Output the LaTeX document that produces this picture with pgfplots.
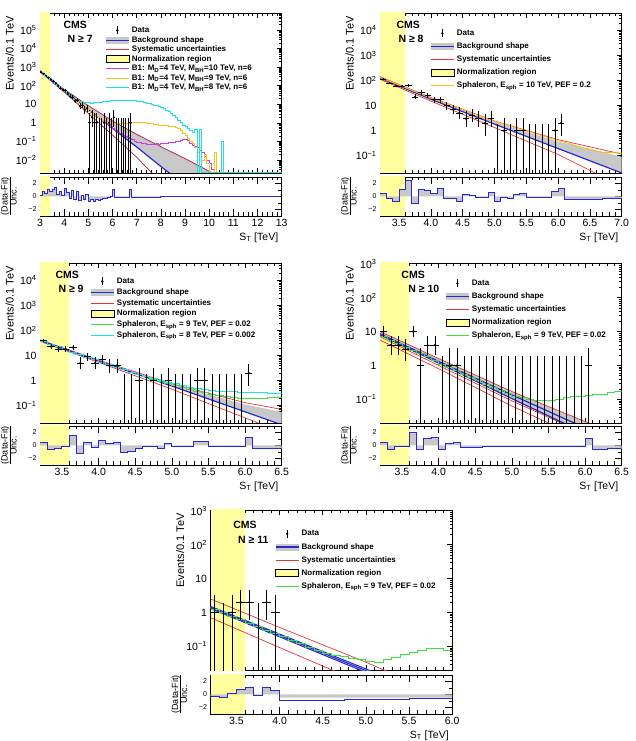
\documentclass[border=0pt]{standalone}
\usepackage{fontspec}
\setmainfont{Liberation Sans}
\usepackage{pgfplots}
\pgfplotsset{compat=1.18}

\definecolor{cmsblue}{RGB}{40,40,210}
\definecolor{cmsred}{RGB}{235,50,50}
\definecolor{cmsmaroon}{RGB}{175,25,60}
\definecolor{cmsgray}{RGB}{200,200,200}
\definecolor{normyel}{RGB}{255,255,160}
\definecolor{sigmag}{RGB}{205,60,235}
\definecolor{sigyel}{RGB}{242,195,30}
\definecolor{sigcyan}{RGB}{20,230,230}
\definecolor{siggreen}{RGB}{60,225,60}

\pgfplotsset{
  legdata/.style={legend image code/.code={\path[draw=none,fill=none] (0pt,-3.5pt) rectangle (23pt,3.5pt); \draw[black, line width=0.7pt] (11.5pt,-4pt)--(11.5pt,4pt); \fill[black] (11.5pt,0pt) circle (1pt);}},
  legbkg/.style={legend image code/.code={\fill[cmsgray, draw=none] (0pt,-3.5pt) rectangle (23pt,3.5pt); \draw[cmsblue, line width=1.2pt] (0pt,0pt)--(23pt,0pt);}},
  legline/.style={legend image code/.code={\path[draw=none,fill=none] (0pt,-3.5pt) rectangle (23pt,3.5pt); \draw[#1, line width=1pt] (0pt,0pt)--(23pt,0pt);}},
  legnorm/.style={legend image code/.code={\draw[black, fill=normyel, line width=0.6pt] (0pt,-3.5pt) rectangle (23pt,3.5pt);}},
  datapts/.style={black, only marks, mark=*, mark size=0.8pt, forget plot,
    error bars/y dir=both, error bars/y explicit, error bars/x dir=both, error bars/x fixed=0.05, error bars/error mark=none,
    error bars/error bar style={line width=0.7pt, black}},
  zeropts/.style={black, only marks, mark=none, forget plot,
    error bars/y dir=plus, error bars/y explicit, error bars/error mark=none,
    error bars/error bar style={line width=0.7pt, black}},
}

\newcommand{\lumi}{\node[anchor=south east, inner sep=0pt, font=\fontsize{10}{11}\selectfont] at (axis description cs:1,1.018) {35.9 fb\textsuperscript{-1} (13 TeV)};}
\newcommand{\ratiolab}{{\renewcommand{\arraystretch}{0.8}\begin{tabular}{@{}c@{}}(Data-Fit)\\\hline Unc.\end{tabular}}}

\begin{document}
\begin{tikzpicture}
\path[use as bounding box] (0pt,0pt) rectangle (635pt,741pt);

%%%%%%%%%%%%%%%%%%%% PANEL 1 : N >= 7
\begin{axis}[ymode=log, scale only axis, width=241.7pt, height=160pt,
  at={(40pt,568pt)}, anchor=south west,
  tick align=inside, tick pos=both, axis line style={line width=0.6pt}, tick style={black, line width=0.5pt},
  tick label style={font=\fontsize{10.5}{12}\selectfont},
  major tick length=5pt, minor tick length=2.6pt,
  xmin=3, xmax=13, ymin=0.002, ymax=8e5,
  xtick={3,4,...,13}, minor xtick={3.2,3.4,...,12.8}, xticklabels={},
  ytick={0.01,0.1,1,10,100,1000,10000,100000},
  yticklabels={10\textsuperscript{−2},10\textsuperscript{−1},1,10,10\textsuperscript{2},10\textsuperscript{3},10\textsuperscript{4},10\textsuperscript{5}},
  minor ytick={0.002,0.003,0.004,0.005,0.006,0.007,0.008,0.009,0.02,0.03,0.04,0.05,0.06,0.07,0.08,0.09,0.2,0.3,0.4,0.5,0.6,0.7,0.8,0.9,2,3,4,5,6,7,8,9,20,30,40,50,60,70,80,90,200,300,400,500,600,700,800,900,2000,3000,4000,5000,6000,7000,8000,9000,20000,30000,40000,50000,60000,70000,80000,90000,200000,300000,400000,500000,600000,700000},
  ylabel={Events/0.1 TeV},
  ylabel style={at={(axis description cs:-0.125,1)}, anchor=east, font=\fontsize{11}{13}\selectfont},
  legend cell align=left,
  legend style={at={(axis description cs:0.269,0.92)}, anchor=north west, draw=none, fill=none, inner sep=0pt,
    font=\bfseries\fontsize{8}{9}\selectfont, row sep=1.5pt,
    nodes={inner xsep=2.5pt, inner ysep=0pt, text height=6pt, text depth=2pt}}]
\addlegendimage{legdata}\addlegendentry{Data}
\addlegendimage{legbkg}\addlegendentry{Background shape}
\addlegendimage{legline=cmsred}\addlegendentry{Systematic uncertainties}
\addlegendimage{legnorm}\addlegendentry{Normalization region}
\addlegendimage{legline=sigmag}\addlegendentry{B1: M\textsubscript{D}=4 TeV, M\textsubscript{BH}=10 TeV, n=6}
\addlegendimage{legline=sigyel}\addlegendentry{B1: M\textsubscript{D}=4 TeV, M\textsubscript{BH}=9 TeV, n=6}
\addlegendimage{legline=sigcyan}\addlegendentry{B1: M\textsubscript{D}=4 TeV, M\textsubscript{BH}=8 TeV, n=6}
\addplot[fill=normyel, draw=none, forget plot] coordinates {(3,1e-4) (3.4,1e-4) (3.4,1e7) (3,1e7)} -- cycle;
\addplot[fill=cmsgray, draw=none, forget plot] coordinates {(3.0,630) (4.0,63) (5.0,8.3) (6.0,1.26) (7.0,0.24) (8.0,0.052) (9.0,0.012) (10.1,0.0021) (10.3,0.0015) (10.3,0.001) (8.5,0.0014) (8.0,0.0045) (7.0,0.05) (6.0,0.5) (5.0,5.0) (4.0,52) (3.0,600)} -- cycle;
\addplot[cmsmaroon, line width=0.7pt, forget plot] coordinates {(3.0,630) (4.0,63) (5.0,8.3) (6.0,1.26) (7.0,0.24) (8.0,0.052) (9.0,0.012) (10.1,0.0021) (10.3,0.0015)};
\addplot[cmsmaroon, line width=0.7pt, forget plot] coordinates {(3.0,560) (4.0,45) (5.0,3.2) (6.0,0.22) (7.0,0.014) (7.6,0.0022) (7.7,0.0016)};
\addplot[cmsblue, line width=1.2pt, forget plot] coordinates {(3.0,600) (4.0,52) (5.0,5.0) (6.0,0.5) (7.0,0.05) (8.0,0.0045) (8.5,0.0014)};
\addplot[const plot, sigmag, line width=0.9pt, forget plot] coordinates {(5.0,4.1) (5.1,3.2) (5.2,2.6) (5.3,2.2) (5.4,1.8) (5.5,1.55) (5.6,1.25) (5.7,0.98) (5.8,0.78) (5.9,0.62) (6.0,0.48) (6.1,0.38) (6.2,0.32) (6.3,0.26) (6.4,0.22) (6.5,0.19) (6.6,0.16) (6.7,0.14) (6.8,0.12) (6.9,0.105) (7.0,0.093) (7.1,0.083) (7.2,0.079) (7.3,0.074) (7.4,0.071) (7.5,0.071) (7.6,0.068) (7.7,0.071) (7.8,0.074) (7.9,0.071) (8.0,0.076) (8.1,0.079) (8.2,0.079) (8.3,0.083) (8.4,0.085) (8.5,0.089) (8.6,0.095) (8.7,0.1) (8.8,0.11) (8.9,0.12) (9.0,0.12) (9.1,0.11) (9.2,0.08) (9.3,0.063) (9.4,0.056) (9.5,0.045) (9.6,0.032) (9.7,0.025) (9.8,0.016) (9.9,0.01) (10.0,0.0063) (10.1,0.0032) (10.2,0.0021) (13,0.0021)};
\addplot[const plot, sigyel, line width=0.9pt, forget plot] coordinates {(4.5,13.7) (4.6,10.7) (4.7,8.4) (4.8,6.6) (4.9,5.1) (5.0,4.1) (5.1,3.2) (5.2,2.6) (5.3,2.2) (5.4,1.8) (5.5,1.55) (5.6,1.35) (5.7,1.2) (5.8,1.1) (5.9,1.02) (6.0,0.95) (6.1,0.91) (6.2,0.89) (6.3,0.87) (6.4,0.87) (6.5,0.89) (6.6,0.91) (6.7,0.95) (6.8,1.0) (6.9,1.05) (7.0,1.07) (7.1,1.07) (7.2,1.05) (7.3,1.0) (7.4,0.95) (7.5,0.91) (7.6,0.87) (7.7,0.83) (7.8,0.79) (7.9,0.76) (8.0,0.74) (8.1,0.71) (8.2,0.68) (8.3,0.65) (8.4,0.63) (8.5,0.6) (8.6,0.54) (8.7,0.47) (8.8,0.38) (8.9,0.28) (9.0,0.2) (9.1,0.14) (9.2,0.1) (9.3,0.08) (9.4,0.05) (9.5,0.025) (9.6,0.05) (9.7,0.01) (9.8,0.02) (9.9,0.0063) (10.0,0.0021) (10.1,0.0021) (10.2,0.025) (10.3,0.0021) (13,0.0021)};
\addplot[const plot, sigcyan, line width=0.9pt, forget plot] coordinates {(3.0,533) (3.1,418) (3.2,327) (3.3,256) (3.4,201) (3.5,157) (3.6,123) (3.7,97) (3.8,76) (3.9,59) (4.0,46) (4.1,36) (4.2,28.5) (4.3,22) (4.4,17.5) (4.5,15.8) (4.6,14.1) (4.7,13.2) (4.8,12.6) (4.9,12.0) (5.0,11.7) (5.1,11.5) (5.2,11.7) (5.3,12.0) (5.4,12.6) (5.5,12.9) (5.6,13.5) (5.7,14.1) (5.8,14.5) (5.9,15.1) (6.0,15.1) (6.1,15.8) (6.2,15.5) (6.3,16.2) (6.4,16.2) (6.5,16.6) (6.6,16.2) (6.7,15.8) (6.8,15.8) (6.9,15.1) (7.0,14.5) (7.1,13.8) (7.2,13.2) (7.3,12.3) (7.4,11.5) (7.5,10.5) (7.6,9.5) (7.7,8.9) (7.8,8.1) (7.9,7.4) (8.0,6.6) (8.1,5.75) (8.2,4.8) (8.3,4.0) (8.4,3.3) (8.5,2.6) (8.6,1.9) (8.7,1.4) (8.8,1.0) (8.9,0.71) (9.0,0.6) (9.1,0.5) (9.2,0.38) (9.3,0.3) (9.4,0.42) (9.5,0.0021) (9.6,0.42) (9.7,0.0021) (10.5,0.1) (10.6,0.0021) (13,0.0021)};
\addplot[datapts] table[x=x, y=y, y error minus=em, y error plus=ep] {
x y em ep
3.05 520 22.3 23.3
3.15 430 20.2 21.2
3.25 340 17.9 18.9
3.35 270 16.0 17.0
3.45 215 14.2 15.2
3.55 175 12.7 13.7
3.65 140 11.3 12.3
3.75 100 9.5 10.5
3.85 70 8.0 9.1
3.95 60 7.5 8.5
4.05 55 7.2 8.2
4.15 36 5.8 6.9
4.25 27 5.1 6.2
4.35 24 4.8 5.9
4.45 15 3.8 4.9
4.55 17 4.1 5.2
4.65 8 2.77 3.95
4.75 9 2.94 4.11
4.85 5 2.16 3.38
4.95 6 2.38 3.58
5.05 1 0.999 2.30
5.15 2 1.4 2.64
5.25 1 0.999 2.30
5.35 1 0.999 2.30
5.65 1 0.999 2.30
5.85 1 0.999 2.30
6.05 2 1.4 2.64
6.75 1 0.999 2.30
};
\addplot[zeropts] table[x=x, y=y, y error plus=ep] {
x y ep
5.45 0.0001 1.84
5.55 0.0001 1.84
5.75 0.0001 1.84
5.95 0.0001 1.84
6.15 0.0001 1.84
6.25 0.0001 1.84
6.35 0.0001 1.84
6.45 0.0001 1.84
6.55 0.0001 1.84
6.65 0.0001 1.84
};
\node[anchor=west, font=\bfseries\fontsize{10.5}{12}\selectfont] at (axis description cs:0.083,0.927) {CMS};
\node[anchor=west, font=\bfseries\fontsize{10.5}{12}\selectfont] at (axis description cs:0.1,0.84) {N ≥ 7};
\lumi
\end{axis}
\begin{axis}[scale only axis, width=241.7pt, height=39pt, at={(40pt,525pt)}, anchor=south west,
  tick align=inside, tick pos=both, axis line style={line width=0.6pt}, tick style={black, line width=0.5pt},
  tick label style={font=\fontsize{10.5}{12}\selectfont},
  major tick length=7pt, minor tick length=3.5pt,
  ymin=-3, ymax=3, ytick={-2,0,2}, yticklabels={−2,0,2}, minor ytick={-3,-1,1,3},
  yticklabel style={font=\fontsize{7}{8}\selectfont},
  xlabel={S\textsubscript{T} [TeV]},
  xlabel style={at={(axis description cs:1,0)}, anchor=north east, yshift=-13pt, font=\fontsize{10.5}{12}\selectfont},
  ylabel={\ratiolab},
  ylabel style={at={(axis description cs:-0.124,0.5)}, anchor=center, font=\fontsize{9}{10}\selectfont},
  xmin=3, xmax=13, xtick={3,4,...,13}, xticklabels={3,4,5,6,7,8,9,10,11,12,13}, minor xtick={3.2,3.4,...,12.8}]
\addplot[fill=normyel, draw=none] coordinates {(3,-5) (3.4,-5) (3.4,5) (3,5)} -- cycle;
\addplot[const plot, fill=cmsgray, draw=none] coordinates {(3.0,0) (3.0,0.1) (3.1,0.8) (3.2,0.5) (3.3,1.0) (3.4,0.8) (3.5,1.1) (3.6,1.4) (3.7,0.35) (3.8,0.7) (3.9,0.1) (4.0,1.3) (4.1,0.6) (4.2,-0.25) (4.3,0.9) (4.4,-0.4) (4.5,0.8) (4.6,-0.6) (4.7,0.15) (4.8,-0.5) (4.9,0.35) (5.0,-0.8) (5.1,-0.4) (5.2,-0.7) (5.3,-0.5) (5.4,-0.6) (5.5,-0.4) (5.6,-0.35) (5.7,-0.25) (5.8,-0.1) (5.9,0.0) (6.0,1.0) (6.1,-0.1) (6.7,1.0) (6.8,-0.1) (7.2,-0.08) (8,-0.06) (9,-0.04) (10,-0.03) (11,-0.02) (13,-0.02) (13,0)} -- cycle;
\addplot[const plot, cmsblue, line width=1pt] coordinates {(3.0,0.1) (3.1,0.8) (3.2,0.5) (3.3,1.0) (3.4,0.8) (3.5,1.1) (3.6,1.4) (3.7,0.35) (3.8,0.7) (3.9,0.1) (4.0,1.3) (4.1,0.6) (4.2,-0.25) (4.3,0.9) (4.4,-0.4) (4.5,0.8) (4.6,-0.6) (4.7,0.15) (4.8,-0.5) (4.9,0.35) (5.0,-0.8) (5.1,-0.4) (5.2,-0.7) (5.3,-0.5) (5.4,-0.6) (5.5,-0.4) (5.6,-0.35) (5.7,-0.25) (5.8,-0.1) (5.9,0.0) (6.0,1.0) (6.1,-0.1) (6.7,1.0) (6.8,-0.1) (7.2,-0.08) (8,-0.06) (9,-0.04) (10,-0.03) (11,-0.02) (13,-0.02)};
\end{axis}

%%%%%%%%%%%%%%%%%%%% PANEL 2 : N >= 8
\begin{axis}[ymode=log, scale only axis, width=241.7pt, height=160pt,
  at={(380pt,568pt)}, anchor=south west,
  tick align=inside, tick pos=both, axis line style={line width=0.6pt}, tick style={black, line width=0.5pt},
  tick label style={font=\fontsize{10.5}{12}\selectfont},
  major tick length=5pt, minor tick length=2.6pt,
  xmin=3.2, xmax=7.0, ymin=0.02, ymax=5e4,
  xtick={3.5,4,...,7}, minor xtick={3.2,3.3,...,7.0}, xticklabels={},
  ytick={0.1,1,10,100,1000,10000},
  yticklabels={10\textsuperscript{−1},1,10,10\textsuperscript{2},10\textsuperscript{3},10\textsuperscript{4}},
  minor ytick={0.02,0.03,0.04,0.05,0.06,0.07,0.08,0.09,0.2,0.3,0.4,0.5,0.6,0.7,0.8,0.9,2,3,4,5,6,7,8,9,20,30,40,50,60,70,80,90,200,300,400,500,600,700,800,900,2000,3000,4000,5000,6000,7000,8000,9000,20000,30000,40000},
  ylabel={Events/0.1 TeV},
  ylabel style={at={(axis description cs:-0.125,1)}, anchor=east, font=\fontsize{11}{13}\selectfont},
  legend cell align=left,
  legend style={at={(axis description cs:0.207,0.902)}, anchor=north west, draw=none, fill=none, inner sep=0pt,
    font=\bfseries\fontsize{8}{9}\selectfont, row sep=5pt,
    nodes={inner xsep=2.5pt, inner ysep=0pt, text height=6pt, text depth=2pt}}]
\addlegendimage{legdata}\addlegendentry{Data}
\addlegendimage{legbkg}\addlegendentry{Background shape}
\addlegendimage{legline=cmsred}\addlegendentry{Systematic uncertainties}
\addlegendimage{legnorm}\addlegendentry{Normalization region}
\addlegendimage{legline=sigyel}\addlegendentry{Sphaleron, E\textsubscript{sph} = 10 TeV, PEF = 0.2}
\addplot[fill=normyel, draw=none, forget plot] coordinates {(3.2,1e-4) (3.6,1e-4) (3.6,1e7) (3.2,1e7)} -- cycle;
\addplot[fill=cmsgray, draw=none, forget plot] coordinates {(3.2,135) (4.0,20) (5.0,2.2) (6.0,0.36) (7.0,0.09) (7.0,0.02) (6.0,0.19) (5.0,1.8) (4.0,17.8) (3.2,126)} -- cycle;
\addplot[cmsred, line width=0.7pt, forget plot] coordinates {(3.2,141) (4.0,21) (5.0,2.4) (6.0,0.43) (7.0,0.115)};
\addplot[cmsred, line width=0.7pt, forget plot] coordinates {(3.2,112) (4.0,15) (5.0,1.32) (6.0,0.11) (6.6,0.019)};
\addplot[cmsblue, line width=1.2pt, forget plot] coordinates {(3.2,126) (4.0,17.8) (5.0,1.8) (6.0,0.19) (7.0,0.02)};
\addplot[sigyel, line width=0.9pt, forget plot] coordinates {(3.2,133) (4.0,20) (5.0,2.3) (6.0,0.4) (6.4,0.2) (6.7,0.135) (7.0,0.125)};
\addplot[datapts] table[x=x, y=y, y error minus=em, y error plus=ep] {
x y em ep
3.25 112 10.1 11.1
3.35 78 8.3 9.3
3.45 60 7.2 8.3
3.55 60 7.2 8.3
3.65 64 7.5 8.5
3.75 22 4.6 5.7
3.85 33 5.7 6.8
3.95 25 5.0 6.0
4.05 17 4.1 5.2
4.15 17 4.1 5.2
4.25 10 3.11 4.27
4.35 7 2.58 3.77
4.45 5 2.16 3.38
4.55 3 1.63 2.92
4.65 4 1.91 3.16
4.75 3 1.63 2.92
4.85 2 1.4 2.64
4.95 3 1.63 2.92
5.15 1 0.999 2.30
5.35 1 0.999 2.30
5.45 1 0.999 2.30
5.95 1 0.999 2.30
6.05 2 1.4 2.64
};
\addplot[zeropts] table[x=x, y=y, y error plus=ep] {
x y ep
5.05 0.0001 1.84
5.25 0.0001 1.84
5.55 0.0001 1.84
5.65 0.0001 1.84
5.75 0.0001 1.84
5.85 0.0001 1.84
};
\node[anchor=west, font=\bfseries\fontsize{10.5}{12}\selectfont] at (axis description cs:0.054,0.927) {CMS};
\node[anchor=west, font=\bfseries\fontsize{10.5}{12}\selectfont] at (axis description cs:0.062,0.84) {N ≥ 8};
\lumi
\end{axis}
\begin{axis}[scale only axis, width=241.7pt, height=39pt, at={(380pt,525pt)}, anchor=south west,
  tick align=inside, tick pos=both, axis line style={line width=0.6pt}, tick style={black, line width=0.5pt},
  tick label style={font=\fontsize{10.5}{12}\selectfont},
  major tick length=7pt, minor tick length=3.5pt,
  ymin=-3, ymax=3, ytick={-2,0,2}, yticklabels={−2,0,2}, minor ytick={-3,-1,1,3},
  yticklabel style={font=\fontsize{7}{8}\selectfont},
  xlabel={S\textsubscript{T} [TeV]},
  xlabel style={at={(axis description cs:1,0)}, anchor=north east, yshift=-13pt, font=\fontsize{10.5}{12}\selectfont},
  ylabel={\ratiolab},
  ylabel style={at={(axis description cs:-0.124,0.5)}, anchor=center, font=\fontsize{9}{10}\selectfont},
  xmin=3.2, xmax=7.0, xtick={3.5,4,...,7}, xticklabels={3.5,4.0,4.5,5.0,5.5,6.0,6.5,7.0}, minor xtick={3.2,3.3,...,7.0}]
\addplot[fill=normyel, draw=none] coordinates {(3.2,-5) (3.6,-5) (3.6,5) (3.2,5)} -- cycle;
\addplot[const plot, fill=cmsgray, draw=none] coordinates {(3.2,0) (3.2,0.4) (3.3,-0.25) (3.4,-0.8) (3.5,1.05) (3.6,2.4) (3.7,-1.15) (3.8,1.05) (3.9,0.95) (4.0,0.4) (4.1,1.2) (4.2,-0.25) (4.3,-0.35) (4.4,-0.7) (4.5,0.25) (4.6,0.15) (4.7,-0.15) (4.8,-0.15) (4.9,0.6) (5.0,-0.8) (5.1,-0.1) (5.2,-0.35) (5.3,0.25) (5.4,0.4) (5.5,-0.15) (5.9,0.7) (6.0,1.3) (6.1,-0.42) (6.4,-0.4) (6.7,-0.37) (7.0,-0.35) (7.0,0)} -- cycle;
\addplot[const plot, cmsblue, line width=1pt] coordinates {(3.2,0.4) (3.3,-0.25) (3.4,-0.8) (3.5,1.05) (3.6,2.4) (3.7,-1.15) (3.8,1.05) (3.9,0.95) (4.0,0.4) (4.1,1.2) (4.2,-0.25) (4.3,-0.35) (4.4,-0.7) (4.5,0.25) (4.6,0.15) (4.7,-0.15) (4.8,-0.15) (4.9,0.6) (5.0,-0.8) (5.1,-0.1) (5.2,-0.35) (5.3,0.25) (5.4,0.4) (5.5,-0.15) (5.9,0.7) (6.0,1.3) (6.1,-0.42) (6.4,-0.4) (6.7,-0.37) (7.0,-0.35)};
\end{axis}

%%%%%%%%%%%%%%%%%%%% PANEL 3 : N >= 9
\begin{axis}[ymode=log, scale only axis, width=241.7pt, height=160pt,
  at={(40pt,318pt)}, anchor=south west,
  tick align=inside, tick pos=both, axis line style={line width=0.6pt}, tick style={black, line width=0.5pt},
  tick label style={font=\fontsize{10.5}{12}\selectfont},
  major tick length=5pt, minor tick length=2.6pt,
  xmin=3.2, xmax=6.5, ymin=0.02, ymax=5e4,
  xtick={3.5,4,...,6.5}, minor xtick={3.2,3.3,...,6.5}, xticklabels={},
  ytick={0.1,1,10,100,1000,10000},
  yticklabels={10\textsuperscript{−1},1,10,10\textsuperscript{2},10\textsuperscript{3},10\textsuperscript{4}},
  minor ytick={0.02,0.03,0.04,0.05,0.06,0.07,0.08,0.09,0.2,0.3,0.4,0.5,0.6,0.7,0.8,0.9,2,3,4,5,6,7,8,9,20,30,40,50,60,70,80,90,200,300,400,500,600,700,800,900,2000,3000,4000,5000,6000,7000,8000,9000,20000,30000,40000},
  ylabel={Events/0.1 TeV},
  ylabel style={at={(axis description cs:-0.125,1)}, anchor=east, font=\fontsize{11}{13}\selectfont},
  legend cell align=left,
  legend style={at={(axis description cs:0.207,0.914)}, anchor=north west, draw=none, fill=none, inner sep=0pt,
    font=\bfseries\fontsize{8}{9}\selectfont, row sep=2.7pt,
    nodes={inner xsep=2.5pt, inner ysep=0pt, text height=6pt, text depth=2pt}}]
\addlegendimage{legdata}\addlegendentry{Data}
\addlegendimage{legbkg}\addlegendentry{Background shape}
\addlegendimage{legline=cmsred}\addlegendentry{Systematic uncertainties}
\addlegendimage{legnorm}\addlegendentry{Normalization region}
\addlegendimage{legline=siggreen}\addlegendentry{Sphaleron, E\textsubscript{sph} = 9 TeV, PEF = 0.02}
\addlegendimage{legline=sigcyan}\addlegendentry{Sphaleron, E\textsubscript{sph} = 8 TeV, PEF = 0.002}
\addplot[fill=normyel, draw=none, forget plot] coordinates {(3.2,1e-4) (3.6,1e-4) (3.6,1e7) (3.2,1e7)} -- cycle;
\addplot[fill=cmsgray, draw=none, forget plot] coordinates {(3.2,41) (4.0,6.4) (5.0,0.7) (6.0,0.11) (6.5,0.055) (6.5,0.017) (6.0,0.056) (5.0,0.6) (4.0,6.0) (3.2,40)} -- cycle;
\addplot[cmsred, line width=0.7pt, forget plot] coordinates {(3.2,42) (4.0,6.6) (5.0,0.74) (6.0,0.13) (6.5,0.07)};
\addplot[cmsred, line width=0.7pt, forget plot] coordinates {(3.2,37) (4.0,5.3) (5.0,0.45) (6.0,0.032) (6.2,0.019)};
\addplot[cmsblue, line width=1.2pt, forget plot] coordinates {(3.2,40) (4.0,6.0) (5.0,0.6) (6.0,0.056) (6.5,0.017)};
\addplot[const plot, siggreen, line width=0.9pt, forget plot] coordinates {(3.2,35.5) (3.3,28) (3.4,22.1) (3.5,17.4) (3.6,13.7) (3.7,10.8) (3.8,8.5) (3.9,6.7) (4.0,5.3) (4.1,4.2) (4.2,3.4) (4.3,2.7) (4.4,2.15) (4.5,1.75) (4.6,1.4) (4.7,1.12) (4.8,0.92) (4.9,0.75) (5.0,0.62) (5.1,0.52) (5.2,0.44) (5.3,0.37) (5.4,0.32) (5.5,0.28) (5.6,0.25) (5.7,0.23) (5.8,0.21) (5.9,0.2) (6.0,0.19) (6.1,0.2) (6.2,0.2) (6.3,0.21) (6.4,0.22) (6.5,0.22)};
\addplot[const plot, sigcyan, line width=0.9pt, forget plot] coordinates {(3.2,35.5) (3.3,28) (3.4,22.1) (3.5,17.4) (3.6,13.7) (3.7,10.8) (3.8,8.5) (3.9,6.7) (4.0,5.3) (4.1,4.2) (4.2,3.4) (4.3,2.7) (4.4,2.15) (4.5,1.75) (4.6,1.45) (4.7,1.2) (4.8,1.0) (4.9,0.85) (5.0,0.73) (5.1,0.63) (5.2,0.55) (5.3,0.49) (5.4,0.44) (5.5,0.41) (5.6,0.38) (5.7,0.36) (5.8,0.35) (5.9,0.34) (6.0,0.33) (6.1,0.33) (6.2,0.32) (6.3,0.31) (6.4,0.31) (6.5,0.31)};
\addplot[datapts] table[x=x, y=y, y error minus=em, y error plus=ep] {
x y em ep
3.25 40 6.3 7.3
3.35 23 4.8 5.8
3.45 18 4.2 5.3
3.55 18 4.2 5.3
3.65 21 4.6 5.6
3.75 5 2.16 3.38
3.85 9 2.94 4.11
3.95 5 2.16 3.38
4.05 7 2.58 3.77
4.15 4 1.91 3.16
4.25 4 1.91 3.16
4.55 1 0.999 2.30
4.75 1 0.999 2.30
4.95 1 0.999 2.30
5.35 1 0.999 2.30
5.45 1 0.999 2.30
6.05 2 1.4 2.64
};
\addplot[zeropts] table[x=x, y=y, y error plus=ep] {
x y ep
4.35 0.0001 1.84
4.45 0.0001 1.84
4.65 0.0001 1.84
4.85 0.0001 1.84
5.05 0.0001 1.84
5.15 0.0001 1.84
5.25 0.0001 1.84
5.55 0.0001 1.84
5.65 0.0001 1.84
5.75 0.0001 1.84
5.85 0.0001 1.84
5.95 0.0001 1.84
};
\node[anchor=west, font=\bfseries\fontsize{10.5}{12}\selectfont] at (axis description cs:0.05,0.927) {CMS};
\node[anchor=west, font=\bfseries\fontsize{10.5}{12}\selectfont] at (axis description cs:0.062,0.84) {N ≥ 9};
\lumi
\end{axis}
\begin{axis}[scale only axis, width=241.7pt, height=39pt, at={(40pt,276pt)}, anchor=south west,
  tick align=inside, tick pos=both, axis line style={line width=0.6pt}, tick style={black, line width=0.5pt},
  tick label style={font=\fontsize{10.5}{12}\selectfont},
  major tick length=7pt, minor tick length=3.5pt,
  ymin=-3, ymax=3, ytick={-2,0,2}, yticklabels={−2,0,2}, minor ytick={-3,-1,1,3},
  yticklabel style={font=\fontsize{7}{8}\selectfont},
  xlabel={S\textsubscript{T} [TeV]},
  xlabel style={at={(axis description cs:1,0)}, anchor=north east, yshift=-13pt, font=\fontsize{10.5}{12}\selectfont},
  ylabel={\ratiolab},
  ylabel style={at={(axis description cs:-0.124,0.5)}, anchor=center, font=\fontsize{9}{10}\selectfont},
  xmin=3.2, xmax=6.5, xtick={3.5,4,...,6.5}, xticklabels={3.5,4.0,4.5,5.0,5.5,6.0,6.5}, minor xtick={3.2,3.3,...,6.5}]
\addplot[fill=normyel, draw=none] coordinates {(3.2,-5) (3.6,-5) (3.6,5) (3.2,5)} -- cycle;
\addplot[const plot, fill=cmsgray, draw=none] coordinates {(3.2,0) (3.2,0.5) (3.3,-0.6) (3.4,-0.5) (3.5,-0.1) (3.6,1.6) (3.7,-1.3) (3.8,0.4) (3.9,-0.3) (4.0,0.8) (4.1,0.3) (4.2,0.5) (4.3,-1.1) (4.4,-0.9) (4.5,-0.4) (4.6,-0.2) (4.7,-0.1) (4.8,-0.4) (4.9,0.3) (5.0,-0.2) (5.3,0.6) (5.5,-0.2) (6.0,1.3) (6.1,-0.5) (6.3,-0.48) (6.5,-0.45) (6.5,0)} -- cycle;
\addplot[const plot, cmsblue, line width=1pt] coordinates {(3.2,0.5) (3.3,-0.6) (3.4,-0.5) (3.5,-0.1) (3.6,1.6) (3.7,-1.3) (3.8,0.4) (3.9,-0.3) (4.0,0.8) (4.1,0.3) (4.2,0.5) (4.3,-1.1) (4.4,-0.9) (4.5,-0.4) (4.6,-0.2) (4.7,-0.1) (4.8,-0.4) (4.9,0.3) (5.0,-0.2) (5.3,0.6) (5.5,-0.2) (6.0,1.3) (6.1,-0.5) (6.3,-0.48) (6.5,-0.45)};
\end{axis}

%%%%%%%%%%%%%%%%%%%% PANEL 4 : N >= 10
\begin{axis}[ymode=log, scale only axis, width=241.7pt, height=160pt,
  at={(380pt,318pt)}, anchor=south west,
  tick align=inside, tick pos=both, axis line style={line width=0.6pt}, tick style={black, line width=0.5pt},
  tick label style={font=\fontsize{10.5}{12}\selectfont},
  major tick length=5pt, minor tick length=2.6pt,
  xmin=3.2, xmax=6.5, ymin=0.02, ymax=1050,
  xtick={3.5,4,...,6.5}, minor xtick={3.2,3.3,...,6.5}, xticklabels={},
  ytick={0.1,1,10,100,1000},
  yticklabels={10\textsuperscript{−1},1,10,10\textsuperscript{2},10\textsuperscript{3}},
  minor ytick={0.02,0.03,0.04,0.05,0.06,0.07,0.08,0.09,0.2,0.3,0.4,0.5,0.6,0.7,0.8,0.9,2,3,4,5,6,7,8,9,20,30,40,50,60,70,80,90,200,300,400,500,600,700,800,900},
  ylabel={Events/0.1 TeV},
  ylabel style={at={(axis description cs:-0.125,1)}, anchor=east, font=\fontsize{11}{13}\selectfont},
  legend cell align=left,
  legend style={at={(axis description cs:0.269,0.902)}, anchor=north west, draw=none, fill=none, inner sep=0pt,
    font=\bfseries\fontsize{8}{9}\selectfont, row sep=5pt,
    nodes={inner xsep=2.5pt, inner ysep=0pt, text height=6pt, text depth=2pt}}]
\addlegendimage{legdata}\addlegendentry{Data}
\addlegendimage{legbkg}\addlegendentry{Background shape}
\addlegendimage{legline=cmsred}\addlegendentry{Systematic uncertainties}
\addlegendimage{legnorm}\addlegendentry{Normalization region}
\addlegendimage{legline=siggreen}\addlegendentry{Sphaleron, E\textsubscript{sph} = 9 TeV, PEF = 0.02}
\addplot[fill=normyel, draw=none, forget plot] coordinates {(3.2,1e-4) (3.6,1e-4) (3.6,1e7) (3.2,1e7)} -- cycle;
\addplot[fill=cmsgray, draw=none, forget plot] coordinates {(3.2,10) (4.0,1.6) (5.0,0.17) (6.1,0.018) (6.2,0.015) (5.8,0.015) (5.0,0.105) (4.0,1.17) (3.2,8.0)} -- cycle;
\addplot[cmsred, line width=0.7pt, forget plot] coordinates {(3.2,10) (4.0,1.6) (5.0,0.17) (6.1,0.018) (6.2,0.015)};
\addplot[cmsred, line width=0.7pt, forget plot] coordinates {(3.2,7.0) (4.0,1.0) (5.0,0.09) (5.75,0.017)};
\addplot[cmsred, line width=0.7pt, forget plot] coordinates {(3.2,5.6) (4.0,0.8) (5.0,0.063) (5.6,0.016)};
\addplot[cmsblue, line width=1.2pt, forget plot] coordinates {(3.2,8.6) (4.0,1.32) (5.0,0.135) (5.95,0.016)};
\addplot[cmsblue, line width=1.2pt, forget plot] coordinates {(3.2,8.0) (4.0,1.17) (5.0,0.105) (5.8,0.016)};
\addplot[const plot, siggreen, line width=0.9pt, forget plot] coordinates {(3.2,7.1) (3.3,5.6) (3.4,4.5) (3.5,3.5) (3.6,2.8) (3.7,2.2) (3.8,1.8) (3.9,1.4) (4.0,1.1) (4.1,0.87) (4.2,0.7) (4.3,0.55) (4.4,0.44) (4.5,0.35) (4.6,0.28) (4.7,0.22) (4.8,0.18) (4.9,0.15) (5.0,0.125) (5.1,0.11) (5.2,0.1) (5.3,0.095) (5.4,0.092) (5.5,0.095) (5.6,0.1) (5.7,0.115) (5.8,0.125) (5.9,0.125) (6.0,0.13) (6.1,0.135) (6.2,0.14) (6.3,0.16) (6.4,0.165) (6.5,0.165)};
\addplot[datapts] table[x=x, y=y, y error minus=em, y error plus=ep] {
x y em ep
3.25 10 3.11 4.27
3.35 4 1.91 3.16
3.45 4 1.91 3.16
3.55 3 1.63 2.92
3.65 10 3.11 4.27
3.75 1 0.999 2.30
3.85 4 1.91 3.16
3.95 4 1.91 3.16
4.15 1 0.999 2.30
4.25 1 0.999 2.30
6.05 1 0.999 2.30
};
\addplot[zeropts] table[x=x, y=y, y error plus=ep] {
x y ep
4.05 0.0001 1.84
4.35 0.0001 1.84
4.45 0.0001 1.84
4.55 0.0001 1.84
4.65 0.0001 1.84
4.75 0.0001 1.84
4.85 0.0001 1.84
4.95 0.0001 1.84
5.05 0.0001 1.84
5.15 0.0001 1.84
5.25 0.0001 1.84
5.35 0.0001 1.84
5.45 0.0001 1.84
5.55 0.0001 1.84
5.65 0.0001 1.84
5.75 0.0001 1.84
5.85 0.0001 1.84
5.95 0.0001 1.84
};
\node[anchor=west, font=\bfseries\fontsize{10.5}{12}\selectfont] at (axis description cs:0.074,0.927) {CMS};
\node[anchor=west, font=\bfseries\fontsize{10.5}{12}\selectfont] at (axis description cs:0.103,0.84) {N ≥ 10};
\lumi
\end{axis}
\begin{axis}[scale only axis, width=241.7pt, height=39pt, at={(380pt,276pt)}, anchor=south west,
  tick align=inside, tick pos=both, axis line style={line width=0.6pt}, tick style={black, line width=0.5pt},
  tick label style={font=\fontsize{10.5}{12}\selectfont},
  major tick length=7pt, minor tick length=3.5pt,
  ymin=-3, ymax=3, ytick={-2,0,2}, yticklabels={−2,0,2}, minor ytick={-3,-1,1,3},
  yticklabel style={font=\fontsize{7}{8}\selectfont},
  xlabel={S\textsubscript{T} [TeV]},
  xlabel style={at={(axis description cs:1,0)}, anchor=north east, yshift=-13pt, font=\fontsize{10.5}{12}\selectfont},
  ylabel={\ratiolab},
  ylabel style={at={(axis description cs:-0.124,0.5)}, anchor=center, font=\fontsize{9}{10}\selectfont},
  xmin=3.2, xmax=6.5, xtick={3.5,4,...,6.5}, xticklabels={3.5,4.0,4.5,5.0,5.5,6.0,6.5}, minor xtick={3.2,3.3,...,6.5}]
\addplot[fill=normyel, draw=none] coordinates {(3.2,-5) (3.6,-5) (3.6,5) (3.2,5)} -- cycle;
\addplot[const plot, fill=cmsgray, draw=none] coordinates {(3.2,0) (3.2,0.5) (3.3,-0.6) (3.4,-0.2) (3.6,2.0) (3.7,-0.6) (3.8,1.0) (3.9,1.2) (4.0,-0.6) (4.1,0.3) (4.2,0.4) (4.3,-0.25) (4.6,-0.22) (5.0,-0.2) (5.5,-0.15) (5.9,-0.12) (6.0,1.0) (6.1,-0.55) (6.3,-0.52) (6.5,-0.5) (6.5,0)} -- cycle;
\addplot[const plot, cmsblue, line width=1pt] coordinates {(3.2,0.5) (3.3,-0.6) (3.4,-0.2) (3.6,2.0) (3.7,-0.6) (3.8,1.0) (3.9,1.2) (4.0,-0.6) (4.1,0.3) (4.2,0.4) (4.3,-0.25) (4.6,-0.22) (5.0,-0.2) (5.5,-0.15) (5.9,-0.12) (6.0,1.0) (6.1,-0.55) (6.3,-0.52) (6.5,-0.5)};
\end{axis}

%%%%%%%%%%%%%%%%%%%% PANEL 5 : N >= 11
\begin{axis}[ymode=log, scale only axis, width=241.7pt, height=160pt,
  at={(210.5pt,71pt)}, anchor=south west,
  tick align=inside, tick pos=both, axis line style={line width=0.6pt}, tick style={black, line width=0.5pt},
  tick label style={font=\fontsize{10.5}{12}\selectfont},
  major tick length=5pt, minor tick length=2.6pt,
  xmin=3.2, xmax=6.0, ymin=0.02, ymax=1050,
  xtick={3.5,4,...,6}, minor xtick={3.2,3.3,...,6.0}, xticklabels={},
  ytick={0.1,1,10,100,1000},
  yticklabels={10\textsuperscript{−1},1,10,10\textsuperscript{2},10\textsuperscript{3}},
  minor ytick={0.02,0.03,0.04,0.05,0.06,0.07,0.08,0.09,0.2,0.3,0.4,0.5,0.6,0.7,0.8,0.9,2,3,4,5,6,7,8,9,20,30,40,50,60,70,80,90,200,300,400,500,600,700,800,900},
  ylabel={Events/0.1 TeV},
  ylabel style={at={(axis description cs:-0.125,1)}, anchor=east, font=\fontsize{11}{13}\selectfont},
  legend cell align=left,
  legend style={at={(axis description cs:0.266,0.88)}, anchor=north west, draw=none, fill=none, inner sep=0pt,
    font=\bfseries\fontsize{8}{9}\selectfont, row sep=5pt,
    nodes={inner xsep=2.5pt, inner ysep=0pt, text height=6pt, text depth=2pt}}]
\addlegendimage{legdata}\addlegendentry{Data}
\addlegendimage{legbkg}\addlegendentry{Background shape}
\addlegendimage{legline=cmsred}\addlegendentry{Systematic uncertainties}
\addlegendimage{legnorm}\addlegendentry{Normalization region}
\addlegendimage{legline=siggreen}\addlegendentry{Sphaleron, E\textsubscript{sph} = 9 TeV, PEF = 0.02}
\addplot[fill=normyel, draw=none, forget plot] coordinates {(3.2,1e-4) (3.6,1e-4) (3.6,1e7) (3.2,1e7)} -- cycle;
\addplot[fill=cmsgray, draw=none, forget plot] coordinates {(3.2,1.5) (4.0,0.23) (5.1,0.017) (5.0,0.017) (4.0,0.19) (3.2,1.3)} -- cycle;
\addplot[cmsred, line width=0.7pt, forget plot] coordinates {(3.2,2.5) (4.0,0.36) (5.0,0.034) (5.3,0.016)};
\addplot[cmsred, line width=0.7pt, forget plot] coordinates {(3.2,0.7) (4.0,0.092) (4.65,0.018)};
\addplot[cmsblue, line width=1.0pt, forget plot] coordinates {(3.2,1.30) (4.0,0.19) (5.0,0.017)};
\addplot[cmsblue, line width=1.0pt, forget plot] coordinates {(3.2,1.40) (4.0,0.21) (5.05,0.017)};
\addplot[cmsblue, line width=1.0pt, forget plot] coordinates {(3.2,1.50) (4.0,0.23) (5.1,0.017)};
\addplot[const plot, siggreen, line width=0.9pt, forget plot] coordinates {(3.2,1.24) (3.3,0.98) (3.4,0.78) (3.5,0.61) (3.6,0.48) (3.7,0.38) (3.8,0.3) (3.9,0.24) (4.0,0.19) (4.1,0.15) (4.2,0.12) (4.3,0.095) (4.4,0.076) (4.5,0.063) (4.6,0.055) (4.7,0.049) (4.8,0.044) (4.9,0.04) (5.0,0.036) (5.1,0.034) (5.2,0.04) (5.3,0.048) (5.4,0.056) (5.5,0.065) (5.6,0.075) (5.7,0.088) (5.8,0.084) (5.9,0.078) (6.0,0.078)};
\addplot[datapts] table[x=x, y=y, y error minus=em, y error plus=ep] {
x y em ep
3.25 1 0.999 2.30
3.45 1 0.999 2.30
3.55 2 1.4 2.64
3.65 2 1.4 2.64
3.85 2 1.4 2.64
3.95 1 0.999 2.30
};
\addplot[zeropts] table[x=x, y=y, y error plus=ep] {
x y ep
3.35 0.0001 1.84
3.75 0.0001 1.84
};
\node[anchor=west, font=\bfseries\fontsize{10.5}{12}\selectfont] at (axis description cs:0.08,0.906) {CMS};
\node[anchor=west, font=\bfseries\fontsize{10.5}{12}\selectfont] at (axis description cs:0.1,0.8125) {N ≥ 11};
\lumi
\end{axis}
\begin{axis}[scale only axis, width=241.7pt, height=39pt, at={(210.5pt,27pt)}, anchor=south west,
  tick align=inside, tick pos=both, axis line style={line width=0.6pt}, tick style={black, line width=0.5pt},
  tick label style={font=\fontsize{10.5}{12}\selectfont},
  major tick length=7pt, minor tick length=3.5pt,
  ymin=-3, ymax=3, ytick={-2,0,2}, yticklabels={−2,0,2}, minor ytick={-3,-1,1,3},
  yticklabel style={font=\fontsize{7}{8}\selectfont},
  xlabel={S\textsubscript{T} [TeV]},
  xlabel style={at={(axis description cs:1,0)}, anchor=north east, yshift=-13pt, font=\fontsize{10.5}{12}\selectfont},
  ylabel={\ratiolab},
  ylabel style={at={(axis description cs:-0.124,0.5)}, anchor=center, font=\fontsize{9}{10}\selectfont},
  xmin=3.2, xmax=6.0, xtick={3.5,4,...,6}, xticklabels={3.5,4.0,4.5,5.0,5.5,6.0}, minor xtick={3.2,3.3,...,6.0}]
\addplot[fill=normyel, draw=none] coordinates {(3.2,-5) (3.6,-5) (3.6,5) (3.2,5)} -- cycle;
\addplot[const plot, fill=cmsgray, draw=none] coordinates {(3.2,0) (3.2,-0.25) (3.3,-0.45) (3.4,0.15) (3.5,0.8) (3.6,1.0) (3.7,-0.1) (3.8,1.15) (3.9,0.65) (4.0,-0.5) (6.0,-0.5) (6.0,0)} -- cycle;
\addplot[const plot, cmsblue, line width=1pt] coordinates {(3.2,-0.25) (3.3,-0.45) (3.4,0.15) (3.5,0.8) (3.6,1.0) (3.7,-0.1) (3.8,1.15) (3.9,0.65) (4.0,-0.95) (4.25,-0.9) (4.5,-0.85) (4.75,-0.8) (5.0,-0.75) (5.25,-0.7) (5.5,-0.62) (5.75,-0.56) (6.0,-0.5)};
\end{axis}

\end{tikzpicture}
\end{document}
